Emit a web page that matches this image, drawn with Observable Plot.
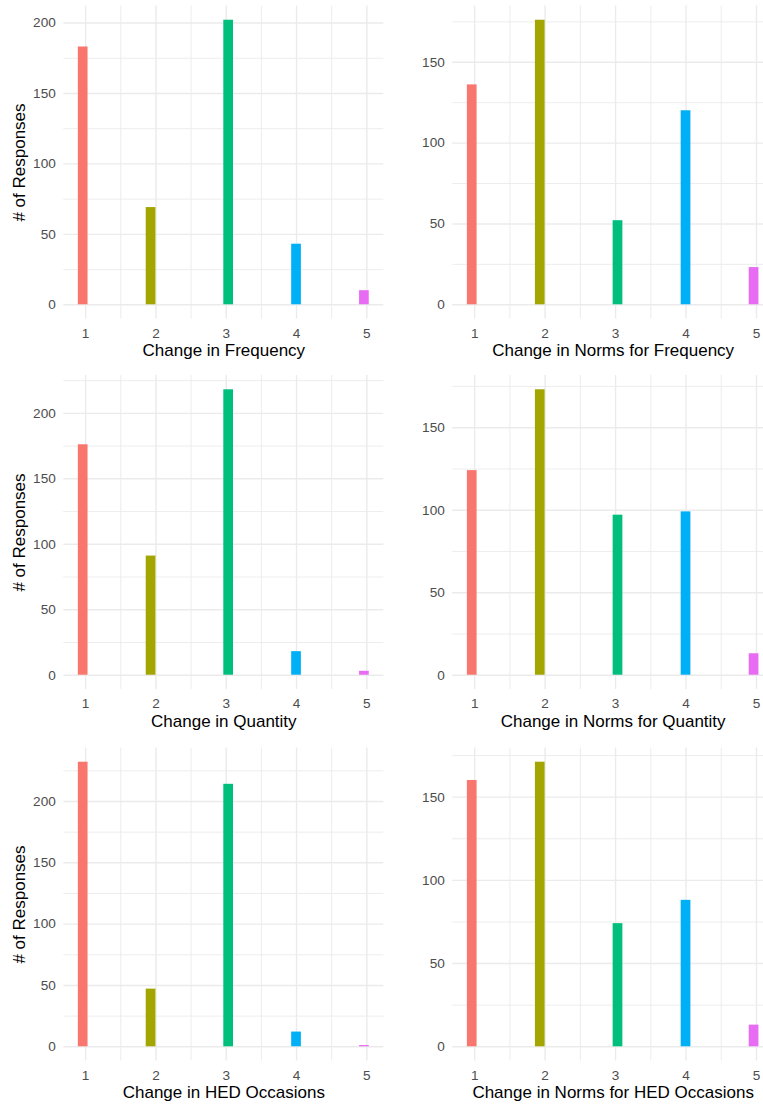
<!DOCTYPE html>
<html>
<head>
<meta charset="utf-8">
<script src="https://cdn.jsdelivr.net/npm/d3@7"></script>
<script src="https://cdn.jsdelivr.net/npm/@observablehq/plot@0.6"></script>
<style>
  html, body { margin: 0; padding: 0; background: #fff; overflow: hidden; }
  #root { position: relative; width: 763px; height: 1105px; overflow: hidden; }
  .panel { position: absolute; }
  .panel svg { max-width: none !important; }
</style>
</head>
<body>
<div id="root"></div>
<script>
// ---- data ----
const responseLevels = [1, 2, 3, 4, 5];
const changeFrequency = [183, 69, 202, 43, 10];
const normsFrequency  = [136, 176, 52, 120, 23];
const changeQuantity  = [176, 91, 218, 18, 3];
const normsQuantity   = [124, 173, 97, 99, 13];
const changeHED       = [232, 47, 214, 12, 1];
const normsHED        = [160, 171, 74, 88, 13];
const xTitles = [
  "Change in Frequency", "Change in Norms for Frequency",
  "Change in Quantity", "Change in Norms for Quantity",
  "Change in HED Occasions", "Change in Norms for HED Occasions"
];
const yTitle = "# of Responses";
const xTickLabels = ["1", "2", "3", "4", "5"];
const levelColors = ["#F8766D", "#A3A500", "#00BF7D", "#00B0F6", "#E76BF3"];

// ---- histogram binning like ggplot2 (bins = 30, right-closed) ----
const nBins = 30;
const lo = d3.min(responseLevels), hi = d3.max(responseLevels);
const binW = (hi - lo) / (nBins - 1);
const boundary = binW / 2;
const origin = boundary + Math.floor((lo - boundary) / binW) * binW;
function binOf(v) {
  const k = Math.ceil((v - origin) / binW - 1e-7) - 1;
  return [origin + k * binW, origin + (k + 1) * binW];
}

const series = [changeFrequency, normsFrequency, changeQuantity, normsQuantity, changeHED, normsHED];

const rowTops = [0, 368, 737];
const rowMargins = [[5.5, 49.5], [7, 47], [10.5, 44.5]];
const panelH = 368;
const font = "'Liberation Sans', Arial, Helvetica, sans-serif";

const root = document.getElementById("root");

series.forEach((counts, i) => {
  const row = Math.floor(i / 2), col = i % 2;
  const rows = responseLevels.map((lvl, j) => {
    const [a, b] = binOf(lvl);
    return {level: lvl, count: counts[j], x1: a, x2: b};
  });
  const xMin = d3.min(rows, d => d.x1), xMax = d3.max(rows, d => d.x2);
  const xPad = (xMax - xMin) * 0.05;
  const yMax = d3.max(counts);
  const yDomain = [-yMax * 0.05, yMax * 1.05];
  const major = d3.ticks(yDomain[0], yDomain[1], 5).filter(t => t >= 0);
  const step = major[1] - major[0];
  const minor = major.map(t => t + step / 2).filter(t => t <= yDomain[1]);
  const xMinor = responseLevels.slice(1).map(v => v - 0.5);

  const left = col === 0 ? 0 : 381;
  const width = col === 0 ? 390 : 392;
  const marginLeft = col === 0 ? 63.3 : 71.3;
  const marginRight = col === 0 ? 6.7 : 0;
  const [mt, mb] = rowMargins[row];

  const marks = [
    Plot.gridY(minor, {stroke: "#ebebeb", strokeOpacity: 1, strokeWidth: 0.9}),
    Plot.gridX(xMinor, {stroke: "#ebebeb", strokeOpacity: 1, strokeWidth: 0.9}),
    Plot.gridY(major, {stroke: "#ebebeb", strokeOpacity: 1, strokeWidth: 1.4}),
    Plot.gridX(responseLevels, {stroke: "#ebebeb", strokeOpacity: 1, strokeWidth: 1.4}),
    Plot.rectY(rows, {x1: "x1", x2: "x2", y1: 0, y2: "count", fill: "level"}),
    Plot.axisY(major, {tickSize: 0, tickPadding: 8, fill: "#4d4d4d", fontSize: 13.6, label: null}),
    Plot.axisX(responseLevels, {tickSize: 0, tickPadding: 9, fill: "#4d4d4d", fontSize: 13.6, label: null,
      tickFormat: (d, k) => xTickLabels[k]}),
    Plot.text([xTitles[i]], {text: d => d, frameAnchor: "bottom", dy: 32, fontSize: 17, fill: "#000",
      textAnchor: "middle", lineAnchor: "middle"})
  ];
  if (col === 0) {
    marks.push(Plot.text([yTitle], {text: d => d, frameAnchor: "left", dx: -44, rotate: -90, fontSize: 17,
      fill: "#000", textAnchor: "middle", lineAnchor: "middle"}));
  }

  const chart = Plot.plot({
    width, height: panelH,
    marginLeft, marginRight, marginTop: mt, marginBottom: mb,
    style: {fontFamily: font, fontSize: "13.6px", background: "transparent", overflow: "visible", maxWidth: "none"},
    x: {domain: [xMin - xPad, xMax + xPad], axis: null},
    y: {domain: yDomain, axis: null},
    color: {domain: responseLevels, range: levelColors},
    marks
  });
  const div = document.createElement("div");
  div.className = "panel";
  div.style.left = left + "px";
  div.style.top = rowTops[row] + "px";
  div.style.width = width + "px";
  div.style.height = panelH + "px";
  div.appendChild(chart);
  root.appendChild(div);
});
</script>
</body>
</html>
